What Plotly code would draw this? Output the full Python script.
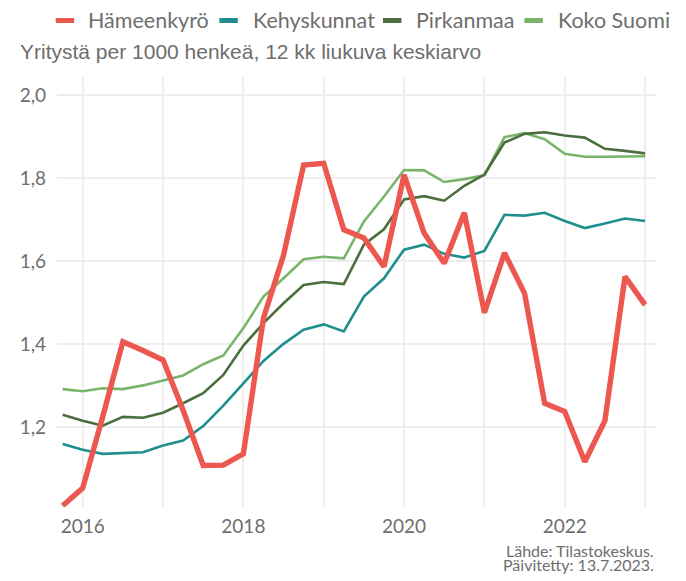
import plotly.graph_objects as go

# neljännesvuodet 2015 Q4 ... 2023 Q1 (desimaalivuosina)
VUODET = [2015.75 + 0.25 * i for i in range(30)]

HAMEENKYRO = [1.010, 1.053, 1.225, 1.405, 1.384, 1.361, 1.240, 1.107, 1.108, 1.135,
              1.462, 1.614, 1.831, 1.835, 1.675, 1.655, 1.586, 1.807, 1.667, 1.594,
              1.716, 1.475, 1.619, 1.522, 1.257, 1.237, 1.116, 1.215, 1.562, 1.494]
KEHYSKUNNAT = [1.159, 1.145, 1.135, 1.137, 1.139, 1.155, 1.167, 1.202, 1.251, 1.305,
               1.359, 1.400, 1.434, 1.447, 1.430, 1.514, 1.558, 1.627, 1.639, 1.617,
               1.608, 1.624, 1.711, 1.709, 1.716, 1.696, 1.679, 1.690, 1.702, 1.696]
PIRKANMAA = [1.229, 1.215, 1.203, 1.224, 1.222, 1.234, 1.257, 1.281, 1.325, 1.396,
             1.450, 1.498, 1.542, 1.549, 1.544, 1.639, 1.676, 1.748, 1.756, 1.745,
             1.781, 1.808, 1.885, 1.906, 1.910, 1.902, 1.897, 1.870, 1.865, 1.859]
KOKO_SUOMI = [1.291, 1.286, 1.293, 1.291, 1.300, 1.312, 1.324, 1.351, 1.372, 1.438,
              1.514, 1.558, 1.604, 1.610, 1.606, 1.695, 1.755, 1.819, 1.818, 1.790,
              1.797, 1.806, 1.898, 1.908, 1.893, 1.858, 1.851, 1.851, 1.851, 1.852]

NIMET = ["Hämeenkyrö", "Kehyskunnat", "Pirkanmaa", "Koko Suomi"]
X_TICKS = [2016, 2018, 2020, 2022]
Y_TICKS = [1.2, 1.4, 1.6, 1.8, 2.0]

RED = "#ec5750"; TEAL = "#1e8f8c"; DARK = "#4b6e3f"; LIGHT = "#79b468"
GRID = "#eeeeee"; TXT = "#6e6e6e"

# piirtojärjestys: Hämeenkyrö viimeisenä päällimmäiseksi
SARJAT = [
    (NIMET[3], KOKO_SUOMI, LIGHT, 2.6),
    (NIMET[2], PIRKANMAA, DARK, 2.6),
    (NIMET[1], KEHYSKUNNAT, TEAL, 2.6),
    (NIMET[0], HAMEENKYRO, RED, 5.4),
]

fig = go.Figure()
for nimi, arvot, vari, lev in SARJAT:
    fig.add_trace(go.Scatter(x=VUODET, y=arvot, mode="lines", name=nimi, showlegend=False,
                             line=dict(color=vari, width=lev)))

# oma selite ylälaitaan (ggplotin tapaan lyhyet paksut viivat)
PW, PH = 604, 430  # piirtoalueen koko
def px(x): return (x - 52) / PW
def py(y): return (507 - y) / PH

selite_x = [(50.7, 81.7), (215.7, 247.3), (380.7, 412.3), (523.3, 555.0)]
shapes, annots = [], []
for (sx, tx), nimi, vari in zip(selite_x, NIMET, [RED, TEAL, DARK, LIGHT]):
    shapes.append(dict(type="line", xref="paper", yref="paper", x0=px(sx), x1=px(sx + 18.6),
                       y0=py(20.5), y1=py(20.5), line=dict(color=vari, width=5)))
    annots.append(dict(text=nimi, xref="paper", yref="paper", x=px(tx), y=py(20),
                       xanchor="left", yanchor="middle", showarrow=False,
                       font=dict(family="Lato", size=21.5, color=TXT)))

annots += [
    dict(text="Yritystä per 1000 henkeä, 12 kk liukuva keskiarvo", xref="paper", yref="paper",
         x=px(13), y=py(52), xanchor="left", yanchor="middle", showarrow=False,
         font=dict(family="Liberation Sans", size=21, color=TXT)),
    dict(text="Lähde: Tilastokeskus.", xref="paper", yref="paper", x=1, y=py(550.5),
         xanchor="right", yanchor="middle", showarrow=False,
         font=dict(family="Lato", size=16, color=TXT)),
    dict(text="Päivitetty: 13.7.2023.", xref="paper", yref="paper", x=1, y=py(564.5),
         xanchor="right", yanchor="middle", showarrow=False,
         font=dict(family="Lato", size=16, color=TXT)),
]

# sivun oletusmarginaali (8 px) siirtää kuvaa, joten kuva on 8 px pienempi
fig.update_layout(
    width=678, height=573, paper_bgcolor="white", plot_bgcolor="white",
    margin=dict(l=44, r=30, t=69, b=74), separators=", ",
    font=dict(family="Lato", color=TXT, size=19),
    shapes=shapes, annotations=annots,
)
fig.update_xaxes(range=[2015.68, 2023.136], tickvals=X_TICKS, showgrid=True, gridcolor=GRID, gridwidth=1.5,
                 minor=dict(dtick=1, tick0=2015, showgrid=True, gridcolor=GRID, gridwidth=1.5),
                 zeroline=False, showline=False, ticks="", ticklabelstandoff=6)
fig.update_yaxes(range=[1.007, 2.043], tickvals=Y_TICKS, tickformat=".1f", showgrid=True,
                 gridcolor=GRID, gridwidth=1.5, zeroline=False, showline=False, ticks="",
                 ticklabelstandoff=10)

fig.write_html("out.html")
